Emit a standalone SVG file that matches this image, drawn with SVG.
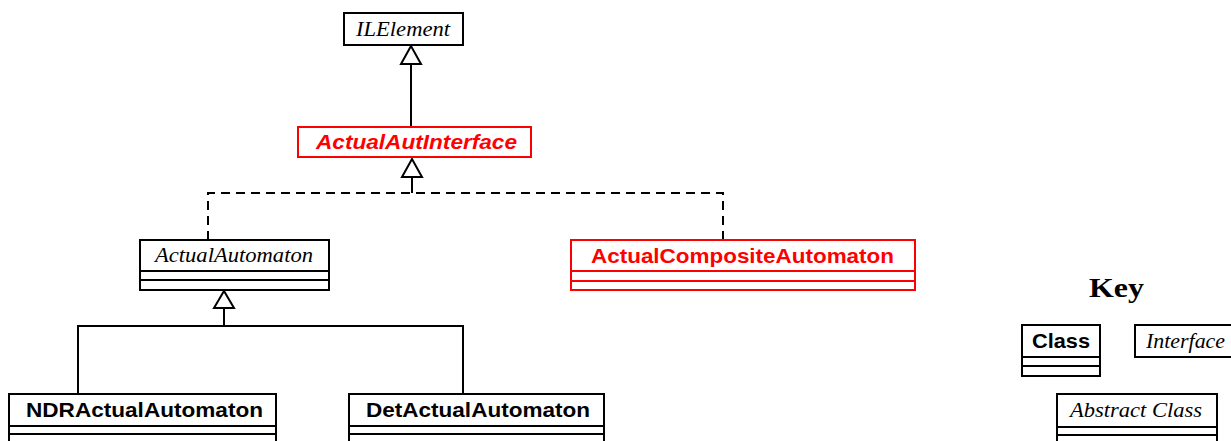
<svg xmlns="http://www.w3.org/2000/svg" width="1231" height="441" viewBox="0 0 1231 441">
  <style>
    .box { fill: #fff; stroke: #000; stroke-width: 2; }
    .red { stroke: #f00; }
    .sep { stroke: #000; stroke-width: 2; fill: none; }
    .sep.red { stroke: #f00; }
    .line { stroke: #000; stroke-width: 2; fill: none; }
    .dash { stroke: #000; stroke-width: 2; fill: none; stroke-dasharray: 9 6; }
    .head { fill: #fff; stroke: #000; stroke-width: 2; }
    .serif-i { font-family: "Liberation Serif", "Times New Roman", serif; font-style: italic; font-size: 20px; fill: #000; }
    .sans-b { font-family: "Liberation Sans", Arial, sans-serif; font-weight: bold; font-size: 21px; fill: #000; }
    .sans-bi { font-family: "Liberation Sans", Arial, sans-serif; font-weight: bold; font-style: italic; font-size: 21px; fill: #f00; }
    .fill-red { fill: #f00; }
    .key { font-family: "Liberation Serif", "Times New Roman", serif; font-weight: bold; font-size: 27px; fill: #000; }
  </style>

  <rect width="1231" height="441" fill="#fff"/>

  <!-- connectors -->
  <g id="connectors">
    <!-- ActualAutInterface extends ILElement -->
    <line class="line" x1="411" y1="127" x2="411" y2="64"/>
    <polygon class="head" points="411,46 401,64 421,64"/>
    <!-- realizations of ActualAutInterface -->
    <path class="dash" d="M208,240 V193 H723 V240"/>
    <line class="line" x1="412" y1="193" x2="412" y2="177"/>
    <polygon class="head" points="412,159 402,177 422,177"/>
    <!-- subclasses of ActualAutomaton -->
    <polygon class="head" points="224,291 214,308 234,308"/>
    <path class="line" d="M224,308 V326 M78,394 V326 H463 V394"/>
  </g>

  <g id="ILElement">
    <rect class="box" x="344" y="13" width="119" height="32"/>
    <text class="serif-i" x="356" y="36" textLength="94" lengthAdjust="spacingAndGlyphs">ILElement</text>
  </g>

  <g id="ActualAutInterface">
    <rect class="box red" x="298" y="127" width="233" height="30"/>
    <text class="sans-bi" x="316" y="149" textLength="201" lengthAdjust="spacingAndGlyphs">ActualAutInterface</text>
  </g>

  <g id="ActualAutomaton">
    <rect class="box" x="140" y="240" width="189" height="50"/>
    <path class="sep" d="M140,271 H329 M140,280 H329"/>
    <text class="serif-i" x="155" y="262" textLength="158" lengthAdjust="spacingAndGlyphs">ActualAutomaton</text>
  </g>

  <g id="ActualCompositeAutomaton">
    <rect class="box red" x="571" y="240" width="344" height="50"/>
    <path class="sep red" d="M571,271 H915 M571,281 H915"/>
    <text class="sans-b fill-red" x="591" y="263" textLength="303" lengthAdjust="spacingAndGlyphs">ActualCompositeAutomaton</text>
  </g>

  <g id="NDRActualAutomaton">
    <rect class="box" x="9" y="394" width="267" height="60"/>
    <path class="sep" d="M9,426 H276 M9,434 H276"/>
    <text class="sans-b" x="26" y="417" textLength="237" lengthAdjust="spacingAndGlyphs">NDRActualAutomaton</text>
  </g>

  <g id="DetActualAutomaton">
    <rect class="box" x="349" y="394" width="255" height="60"/>
    <path class="sep" d="M349,426 H604 M349,434 H604"/>
    <text class="sans-b" x="366" y="417" textLength="224" lengthAdjust="spacingAndGlyphs">DetActualAutomaton</text>
  </g>

  <!-- legend -->
  <g id="legend">
    <text class="key" x="1089" y="297" textLength="55" lengthAdjust="spacingAndGlyphs">Key</text>
    <g id="key-class">
      <rect class="box" x="1022" y="325" width="78" height="51"/>
      <path class="sep" d="M1022,357 H1100 M1022,366 H1100"/>
      <text class="sans-b" x="1032" y="348" textLength="58" lengthAdjust="spacingAndGlyphs">Class</text>
    </g>
    <g id="key-interface">
      <rect class="box" x="1135" y="325" width="110" height="32"/>
      <text class="serif-i" x="1146" y="348" textLength="79" lengthAdjust="spacingAndGlyphs">Interface</text>
    </g>
    <g id="key-abstract">
      <rect class="box" x="1057" y="394" width="160" height="60"/>
      <path class="sep" d="M1057,427 H1217 M1057,435 H1217"/>
      <text class="serif-i" x="1070" y="417" textLength="132" lengthAdjust="spacingAndGlyphs">Abstract Class</text>
    </g>
  </g>
</svg>
